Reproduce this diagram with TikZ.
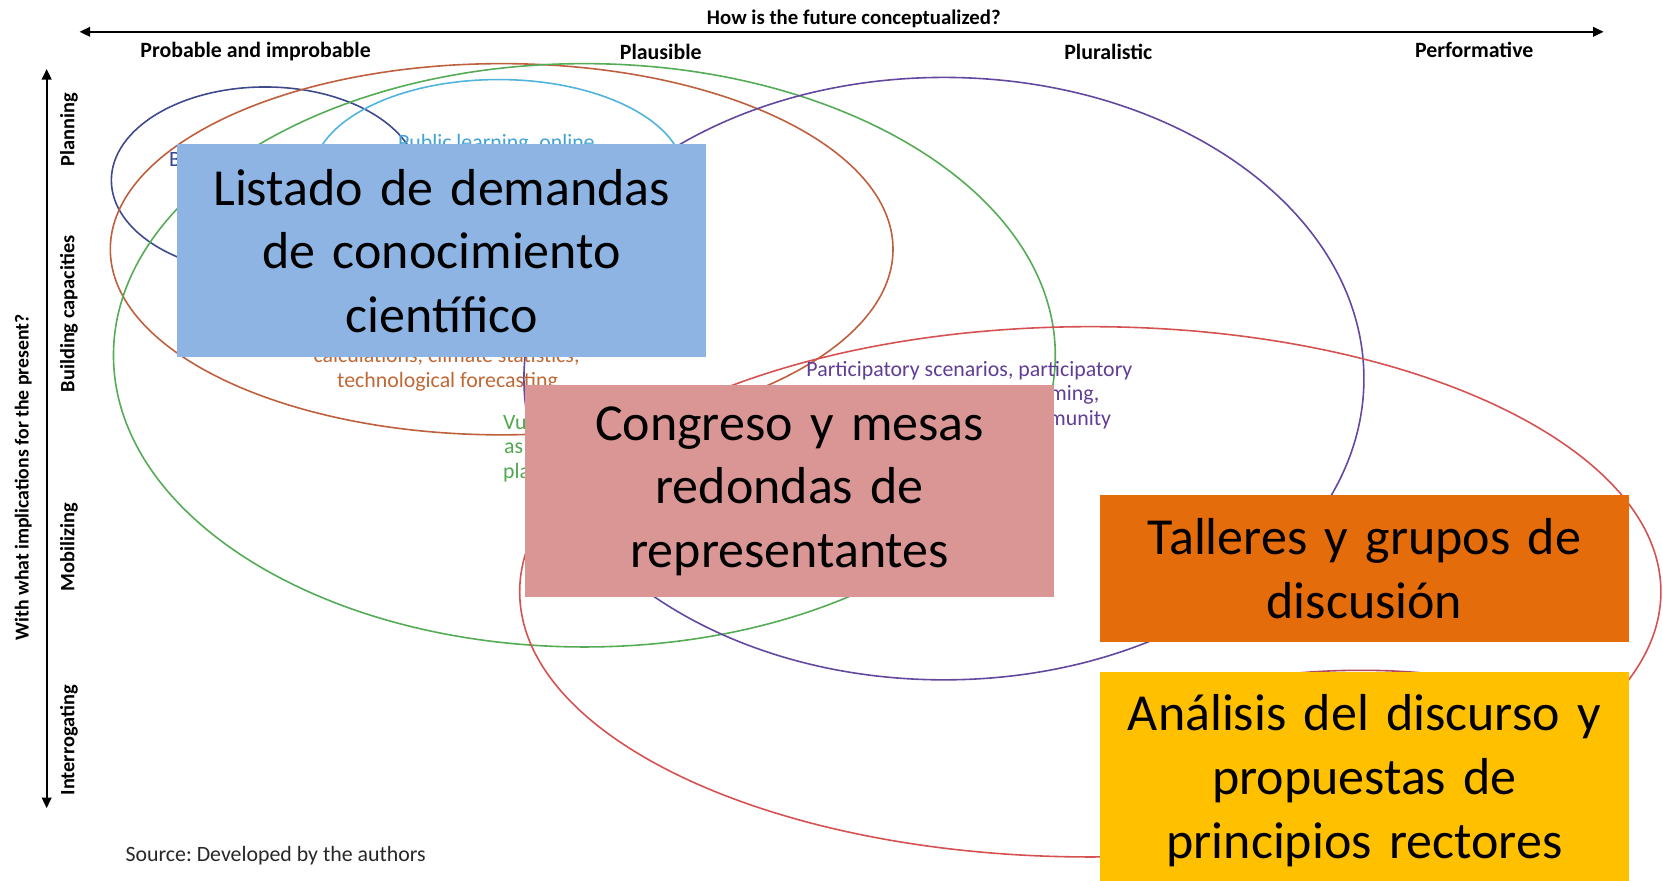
\documentclass[tikz,border=0pt]{standalone}
\usepackage{fontspec}
\setmainfont{Carlito}
\frenchspacing
\usetikzlibrary{arrows.meta}
\definecolor{cNavy}{RGB}{62,74,140}
\definecolor{cBrown}{RGB}{190,96,62}
\definecolor{cGreen}{RGB}{86,172,86}
\definecolor{cCyan}{RGB}{80,180,222}
\definecolor{cPurple}{RGB}{100,72,160}
\definecolor{cRed}{RGB}{214,82,82}
\definecolor{cMaroon}{RGB}{176,74,96}
\definecolor{tBrown}{RGB}{192,104,54}
\definecolor{tGreen}{RGB}{80,168,80}
\definecolor{tPurple}{RGB}{96,62,150}
\definecolor{tCyan}{RGB}{64,164,216}
\definecolor{tNavy}{RGB}{52,72,140}
\definecolor{bBlue}{RGB}{142,180,227}
\definecolor{bPink}{RGB}{217,150,148}
\definecolor{bOrange}{RGB}{228,108,10}
\definecolor{bYellow}{RGB}{255,192,0}
\definecolor{srcGray}{RGB}{40,40,40}
\begin{document}
\begin{tikzpicture}[x=0.5pt,y=-0.5pt,
  ring/.style={line width=0.75pt},
  axis/.style={line width=1pt,{Triangle[length=5pt,width=4.5pt]}-{Triangle[length=5pt,width=4.5pt]}},
  hdr/.style={font=\fontsize{10.3}{12}\selectfont\bfseries,inner sep=0pt},
  vlbl/.style={font=\fontsize{9.6}{11}\selectfont\bfseries,inner sep=0pt,rotate=90},
  frag/.style={font=\fontsize{10.3}{12}\selectfont,inner sep=0pt},
  bigbox/.style={inner sep=0pt,minimum width=249.5pt,text width=249.5pt,align=center,font=\fontsize{24.5}{30}\selectfont}
]
\useasboundingbox (0,0) rectangle (1568,830);
\fill[white] (0,0) rectangle (1568,830);

% axes
\coordinate (hL) at (75,30);
\coordinate (hR) at (1512,30);
\coordinate (vT) at (44,65);
\coordinate (vB) at (44,762);
\draw[axis] (hL) -- (hR);
\draw[axis] (vT) -- (vB);

\node[hdr,font=\fontsize{9.8}{12}\selectfont\bfseries] (title) at (805,18) {How is the future conceptualized?};
\node[hdr] (c1) at (241,49) {Probable and improbable};
\node[hdr] (c2) at (623,49) {Plausible};
\node[hdr] (c3) at (1045,49) {Pluralistic};
\node[hdr] (c4) at (1390,47) {Performative};
\node[vlbl] (r1) at (65,122) {Planning};
\node[vlbl] (r2) at (65,296) {Building capacities};
\node[vlbl] (r3) at (65,516) {Mobilizing};
\node[vlbl] (r4) at (65,698) {Interrogating};
\node[vlbl,font=\fontsize{9.3}{11}\selectfont\bfseries] (vtitle) at (22,450) {With what implications for the present?};
\node[frag,anchor=west,text=srcGray] (src) at (118,807) {Source: Developed by the authors};

% ellipses
\draw[cNavy,ring] (250,170) ellipse [x radius=72.5pt,y radius=44pt];
\draw[cBrown,ring] (473,235) ellipse [x radius=184.5pt,y radius=87.5pt];
\draw[cGreen,ring] (551,335) ellipse [x radius=222pt,y radius=137.5pt];
\draw[cCyan,ring] (470,165) ellipse [x radius=87.5pt,y radius=45pt];
\draw[cPurple,ring] (890,357) ellipse [x radius=198pt,y radius=142pt];
\draw[cRed,ring] (1028,558) ellipse [x radius=269pt,y radius=125pt];
\draw[cMaroon,ring] (1283,715) ellipse [x radius=120pt,y radius=41.5pt];

% partly hidden labels
\node[frag,anchor=base west,text=tNavy] (fB) at (159,157) {B};
\node[frag,anchor=base,text=tCyan] (fPub) at (468,141) {Public learning, online};
\node[frag,anchor=base,text=tBrown] (fCalc) at (421,342) {calculations, climate statistics,};
\node[frag,anchor=base,text=tBrown] (fTech) at (422,365) {technological forecasting};
\node[frag,anchor=base west,text=tGreen] (fVu) at (474,405) {Vu};
\node[frag,anchor=base west,text=tGreen] (fAs) at (475,428) {as};
\node[frag,anchor=base west,text=tGreen] (fPla) at (474,451) {pla};
\node[frag,anchor=base west,text=tPurple] (fPart) at (760,355) {Participatory scenarios, participatory};
\node[frag,anchor=base east,text=tPurple] (fMing) at (1037,378) {ming,};
\node[frag,anchor=base east,text=tPurple] (fMun) at (1048,401) {munity};

% boxes
\node[bigbox,fill=bBlue,minimum height=100.5pt] (listado) at (416.5,236.5) {Listado de demandas\\de conocimiento\\científico};
\node[bigbox,fill=bPink,minimum height=100pt] (congreso) at (744.5,463) {Congreso y mesas\\redondas de\\representantes};
\node[bigbox,fill=bOrange,minimum height=69.5pt] (talleres) at (1286.5,536) {Talleres y grupos de\\discusión};
\node[bigbox,fill=bYellow,minimum height=102pt] (analisis) at (1286.5,736) {Análisis del discurso y\\propuestas de\\principios rectores};
\end{tikzpicture}
\end{document}
